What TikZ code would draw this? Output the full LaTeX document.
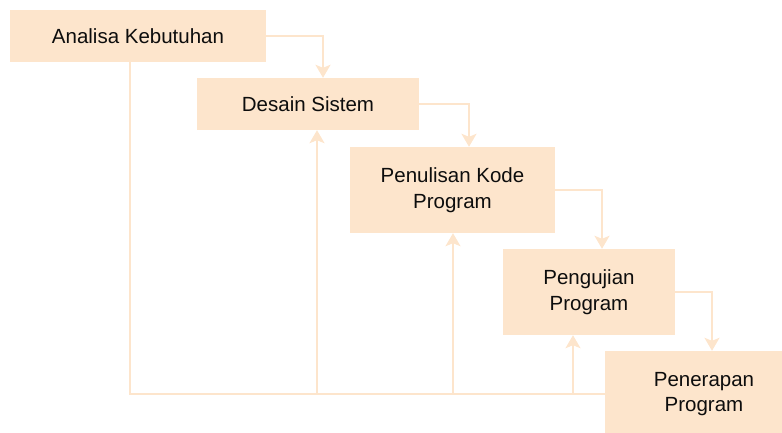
\documentclass[tikz,border=0pt]{standalone}
\usepackage{fontspec}
\setmainfont{Liberation Sans}
\usetikzlibrary{arrows.meta}
\definecolor{peach}{HTML}{FDE5CC}
\begin{document}
\begin{tikzpicture}[x=1pt,y=-1pt,
  stagebox/.style={fill=peach,draw=none,inner sep=0pt,font=\fontsize{20.5}{25.5}\selectfont,align=center,text=black!95},
  conn/.style={draw=peach,line width=2pt},
  arr/.style={conn,-{Stealth[width=15pt,length=13pt,inset=3pt]}}]
\useasboundingbox (0,0) rectangle (782,432);
\node[stagebox,minimum width=256pt,minimum height=52pt] (a) at (138,36) {Analisa Kebutuhan};
\node[stagebox,minimum width=222pt,minimum height=52pt] (b) at (308,104) {Desain Sistem};
\node[stagebox,minimum width=205pt,minimum height=86pt] (c) at (452.5,190) {Penulisan Kode\\Program};
\node[stagebox,minimum width=172pt,minimum height=86pt] (d) at (589,292) {Pengujian\\Program};
\node[stagebox,minimum width=198pt,minimum height=86pt] (e) at (704,394) {Penerapan\\Program};
\coordinate (k1) at (323,36);
\coordinate (k2) at (469,104);
\coordinate (k3) at (602,190);
\coordinate (k4) at (712,292);
\draw[arr] (a.east |- k1) -- (k1) -- (k1 |- b.north);
\draw[arr] (b.east |- k2) -- (k2) -- (k2 |- c.north);
\draw[arr] (c.east |- k3) -- (k3) -- (k3 |- d.north);
\draw[arr] (d.east |- k4) -- (k4) -- (k4 |- e.north);
\coordinate (f0) at (130,394);
\coordinate (f1) at (317,394);
\coordinate (f2) at (453,394);
\coordinate (f3) at (573,394);
\draw[conn] (e.west |- f0) -- (f0) -- (f0 |- a.south);
\draw[arr] (f1) -- (f1 |- b.south);
\draw[arr] (f2) -- (f2 |- c.south);
\draw[arr] (f3) -- (f3 |- d.south);
\end{tikzpicture}
\end{document}
